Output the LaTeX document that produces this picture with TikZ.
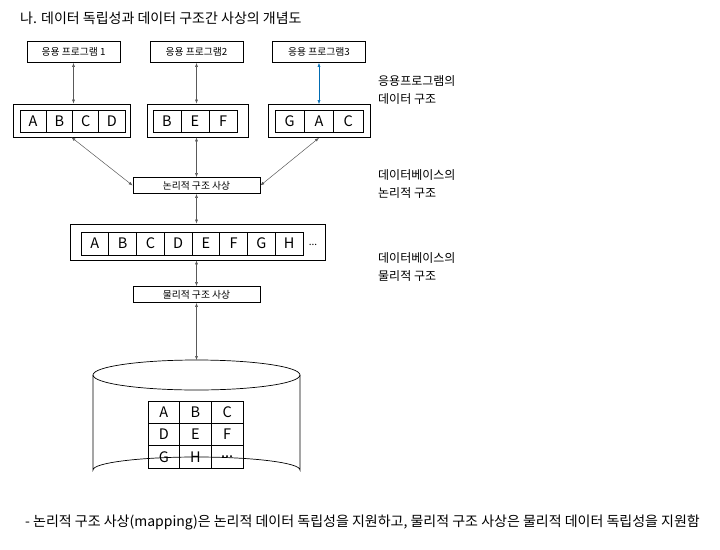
\documentclass[tikz,border=0pt]{standalone}
\usepackage{fontspec}
\setmainfont{Noto Sans CJK KR}
\usetikzlibrary{arrows.meta}
\tikzset{
  appbox/.style={draw, line width=0.7pt, minimum width=93pt, minimum height=21pt, inner sep=0pt, font=\fontsize{9.8}{11}\selectfont},
  mapbox/.style={draw, line width=0.7pt, minimum width=127pt, minimum height=16pt, inner sep=0pt, font=\fontsize{9.8}{11}\selectfont},
  outerbox/.style={draw, line width=0.7pt, inner sep=0pt},
  cellbox/.style={draw, line width=0.7pt, inner sep=0pt, font=\fontsize{14.5}{16}\selectfont},
  arr/.style={draw=gray!70!black, line width=0.5pt, {Latex[length=4pt,width=3pt]}-{Latex[length=4pt,width=3pt]}},
  barr/.style={draw=blue!40!cyan!70!black, line width=0.5pt, {Latex[length=4pt,width=3pt]}-{Latex[length=4pt,width=3pt]}},
  sidelabel/.style={anchor=west, align=left, font=\fontsize{12}{18}\selectfont, inner sep=0pt}
}
\begin{document}
\begin{tikzpicture}[x=1pt,y=-1pt]
\useasboundingbox (0,0) rectangle (720,549);
% title
\node[anchor=west, inner sep=0pt, font=\fontsize{14}{16}\selectfont] (title) at (20,18) {나. 데이터 독립성과 데이터 구조간 사상의 개념도};
% application programs
\node[appbox] (p1) at (73.5,52) {응용 프로그램 1};
\node[appbox] (p2) at (196.5,52) {응용 프로그램2};
\node[appbox] (p3) at (319,52) {응용 프로그램3};
% application data structures
\node[outerbox, minimum width=117pt, minimum height=33pt] (s1) at (71.5,120.5) {};
\foreach \t [count=\i] in {A,B,C,D}
  \node[cellbox, minimum width=26.25pt, minimum height=22pt] (a\i) at ({20+26.25*(\i-0.5)},121) {\t};
\node[outerbox, minimum width=101pt, minimum height=33pt] (s2) at (197.5,120.5) {};
\foreach \t [count=\i] in {B,E,F}
  \node[cellbox, minimum width=28pt, minimum height=22pt] (b\i) at ({153+28*(\i-0.5)},121) {\t};
\node[outerbox, minimum width=102pt, minimum height=33pt] (s3) at (319,121) {};
\foreach \t [count=\i] in {G,A,C}
  \node[cellbox, minimum width=29.33pt, minimum height=22pt] (c\i) at ({275+29.33*(\i-0.5)},121) {\t};
% logical mapping
\node[mapbox] (lm) at (196.5,185.5) {논리적 구조 사상};
% database logical structure
\node[outerbox, minimum width=255pt, minimum height=36pt] (db) at (197.5,242) {};
\foreach \t [count=\i] in {A,B,C,D,E,F,G,H}
  \node[cellbox, minimum width=27.75pt, minimum height=23pt] (d\i) at ({81+27.75*(\i-0.5)},243.5) {\t};
\node[inner sep=0pt, font=\fontsize{10}{12}\selectfont] (dots) at (313,245) {...};
% physical mapping
\node[mapbox] (pm) at (196.5,294.5) {물리적 구조 사상};
% cylinder
\draw[line width=0.7pt] (196.5,375) ellipse [x radius=103.5, y radius=15];
\draw[line width=0.7pt] (93,375) -- (93,470) arc[start angle=180, end angle=360, x radius=103.5, y radius=13] -- (300,375);
\coordinate (cyltop) at (196.5,360);
% grid
\foreach \t [count=\i] in {A,B,C,D,E,F,G,H}{
  \pgfmathtruncatemacro{\r}{div(\i-1,3)}
  \pgfmathtruncatemacro{\c}{mod(\i-1,3)}
  \node[cellbox, minimum width=31.67pt, minimum height=22.33pt] (g\i) at ({148+31.67*(\c+0.5)},{401+22.33*(\r+0.5)}) {\t};
}
\node[cellbox, minimum width=31.67pt, minimum height=22.33pt] (g9) at ({148+31.67*2.5},{401+22.33*2.5}) {...};
% connectors
\draw[arr] (p1.south) -- (p1.south |- s1.north);
\draw[arr] (p2.south) -- (p2.south |- s2.north);
\draw[barr] (p3.south) -- (p3.south |- s3.north);
\draw[arr] (s1.south) -- (lm.west);
\draw[arr] (s3.south) -- (lm.east);
\draw[arr] (lm.north |- s2.south) -- (lm.north);
\draw[arr] (lm.south) -- (lm.south |- db.north);
\draw[arr] (pm.north |- db.south) -- (pm.north);
\draw[arr] (pm.south) -- (cyltop);
% side labels
\node[sidelabel] (l1) at (378,90) {응용프로그램의\\데이터 구조};
\node[sidelabel] (l2) at (378,184) {데이터베이스의\\논리적 구조};
\node[sidelabel] (l3) at (378,267) {데이터베이스의\\물리적 구조};
% note
\node[anchor=west, inner sep=0pt, font=\fontsize{14}{16}\selectfont] (note) at (25,522) {- 논리적 구조 사상(mapping)은 논리적 데이터 독립성을 지원하고, 물리적 구조 사상은 물리적 데이터 독립성을 지원함};
\end{tikzpicture}
\end{document}
